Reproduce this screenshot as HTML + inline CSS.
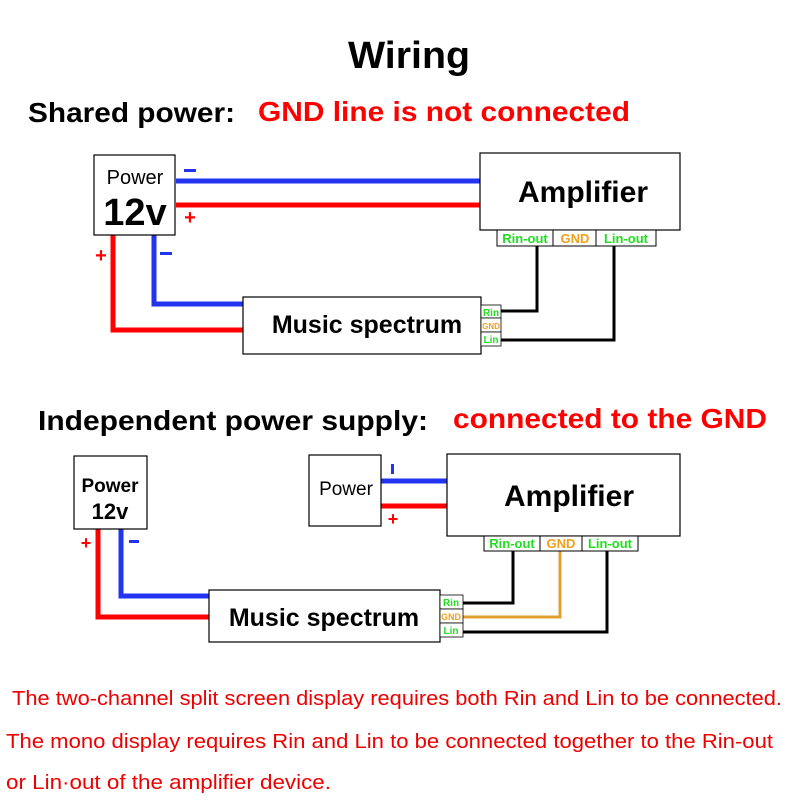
<!DOCTYPE html>
<html><head><meta charset="utf-8"><style>html,body{margin:0;padding:0;background:#fff}svg{display:block}</style></head><body>
<svg width="800" height="800" viewBox="0 0 800 800" xmlns="http://www.w3.org/2000/svg" font-family="Liberation Sans, sans-serif">
<rect width="800" height="800" fill="#fff"/>
<text x="348" y="68" font-size="38" font-weight="bold" textLength="122" lengthAdjust="spacingAndGlyphs">Wiring</text>
<text x="28" y="122" font-size="28" font-weight="bold" textLength="207" lengthAdjust="spacingAndGlyphs">Shared power:</text>
<text x="258" y="121" font-size="28" font-weight="bold" fill="#f00" textLength="372" lengthAdjust="spacingAndGlyphs">GND line is not connected</text>

<!-- Section 1 wires -->
<g fill="none" stroke-width="5">
<path d="M176 181H480" stroke="#2234f0"/>
<path d="M176 205H480" stroke="#f00"/>
<path d="M113 235V330H243" stroke="#f00"/>
<path d="M154 235V304H243" stroke="#2234f0"/>
</g>
<g fill="none" stroke="#000" stroke-width="3">
<path d="M501 311H537V246"/>
<path d="M501 340H614V246"/>
</g>
<rect x="94" y="155" width="81" height="80" fill="#fff" stroke="#000" stroke-width="1.2"/>
<text x="135" y="184" font-size="20" text-anchor="middle">Power</text>
<text x="135" y="225" font-size="38" font-weight="bold" text-anchor="middle">12v</text>
<rect x="184" y="169" width="12" height="3" fill="#2234f0"/>
<text x="190" y="224" font-size="20" font-weight="bold" fill="#f00" text-anchor="middle">+</text>
<text x="101" y="262" font-size="20" font-weight="bold" fill="#f00" text-anchor="middle">+</text>
<rect x="160" y="252" width="12" height="3" fill="#2234f0"/>
<rect x="480" y="153" width="200" height="77" fill="#fff" stroke="#000" stroke-width="1.2"/>
<text x="583" y="202" font-size="30" font-weight="bold" text-anchor="middle">Amplifier</text>
<g stroke="#000" stroke-width="1" fill="#fff">
<rect x="497" y="230" width="56" height="16"/><rect x="553" y="230" width="43" height="16"/><rect x="596" y="230" width="60" height="16"/>
</g>
<g font-size="13" font-weight="bold" text-anchor="middle">
<text x="525" y="243" fill="#22dd22">Rin-out</text><text x="575" y="243" fill="#f0a020">GND</text><text x="626" y="243" fill="#22dd22">Lin-out</text>
</g>
<rect x="243" y="297" width="238" height="57" fill="#fff" stroke="#000" stroke-width="1.2"/>
<text x="367" y="333" font-size="25" font-weight="bold" text-anchor="middle">Music spectrum</text>
<g stroke="#000" stroke-width="0.8" fill="#fff">
<rect x="481" y="305" width="20" height="13"/><rect x="481" y="318" width="20" height="14"/><rect x="481" y="332" width="20" height="14"/>
</g>
<g font-size="10" font-weight="bold" text-anchor="middle">
<text x="491" y="316" fill="#22dd22">Rin</text><text x="491" y="329" fill="#f0a020" font-size="8">GND</text><text x="491" y="343" fill="#22dd22">Lin</text>
</g>

<!-- Section 2 -->
<text x="38" y="430" font-size="28" font-weight="bold" textLength="390" lengthAdjust="spacingAndGlyphs">Independent power supply:</text>
<text x="453" y="428" font-size="28" font-weight="bold" fill="#f00" textLength="314" lengthAdjust="spacingAndGlyphs">connected to the GND</text>
<g fill="none" stroke-width="5">
<path d="M98 529V617H209" stroke="#f00"/>
<path d="M121 529V596H209" stroke="#2234f0"/>
<path d="M381 481H447" stroke="#2234f0"/>
<path d="M381 506H447" stroke="#f00"/>
</g>
<g fill="none" stroke-width="3">
<path d="M463 603H513V551" stroke="#000"/>
<path d="M463 617H560V551" stroke="#e0a030"/>
<path d="M463 632H607V551" stroke="#000"/>
</g>
<rect x="74" y="456" width="73" height="73" fill="#fff" stroke="#000" stroke-width="1.2"/>
<text x="110" y="492" font-size="19" font-weight="bold" text-anchor="middle">Power</text>
<text x="110" y="519" font-size="22" font-weight="bold" text-anchor="middle">12v</text>
<text x="86" y="549" font-size="18" font-weight="bold" fill="#f00" text-anchor="middle">+</text>
<rect x="129" y="540" width="10" height="3" fill="#2234f0"/>
<rect x="309" y="455" width="72" height="71" fill="#fff" stroke="#000" stroke-width="1.2"/>
<text x="346" y="495" font-size="19" text-anchor="middle">Power</text>
<rect x="391" y="464" width="3" height="10" fill="#2234f0"/>
<text x="393" y="525" font-size="18" font-weight="bold" fill="#f00" text-anchor="middle">+</text>
<rect x="447" y="454" width="233" height="82" fill="#fff" stroke="#000" stroke-width="1.2"/>
<text x="569" y="506" font-size="30" font-weight="bold" text-anchor="middle">Amplifier</text>
<g stroke="#000" stroke-width="1" fill="#fff">
<rect x="484" y="536" width="56" height="15"/><rect x="540" y="536" width="42" height="15"/><rect x="582" y="536" width="56" height="15"/>
</g>
<g font-size="13" font-weight="bold" text-anchor="middle">
<text x="512" y="548" fill="#22dd22">Rin-out</text><text x="561" y="548" fill="#f0a020">GND</text><text x="610" y="548" fill="#22dd22">Lin-out</text>
</g>
<rect x="209" y="590" width="231" height="52" fill="#fff" stroke="#000" stroke-width="1.2"/>
<text x="324" y="626" font-size="25" font-weight="bold" text-anchor="middle">Music spectrum</text>
<g stroke="#000" stroke-width="0.8" fill="#fff">
<rect x="440" y="595" width="23" height="14"/><rect x="440" y="609" width="23" height="14"/><rect x="440" y="623" width="23" height="14"/>
</g>
<g font-size="10" font-weight="bold" text-anchor="middle">
<text x="451" y="606" fill="#22dd22">Rin</text><text x="451" y="620" fill="#f0a020" font-size="9">GND</text><text x="451" y="634" fill="#22dd22">Lin</text>
</g>

<!-- Notes -->
<g font-size="20" fill="#e00">
<text x="12" y="705" textLength="770" lengthAdjust="spacingAndGlyphs">The two-channel split screen display requires both Rin and Lin to be connected.</text>
<text x="6" y="748" textLength="767" lengthAdjust="spacingAndGlyphs">The mono display requires Rin and Lin to be connected together to the Rin-out</text>
<text x="6" y="789" textLength="325" lengthAdjust="spacingAndGlyphs">or Lin·out of the amplifier device.</text>
</g>
</svg>
</body></html>
